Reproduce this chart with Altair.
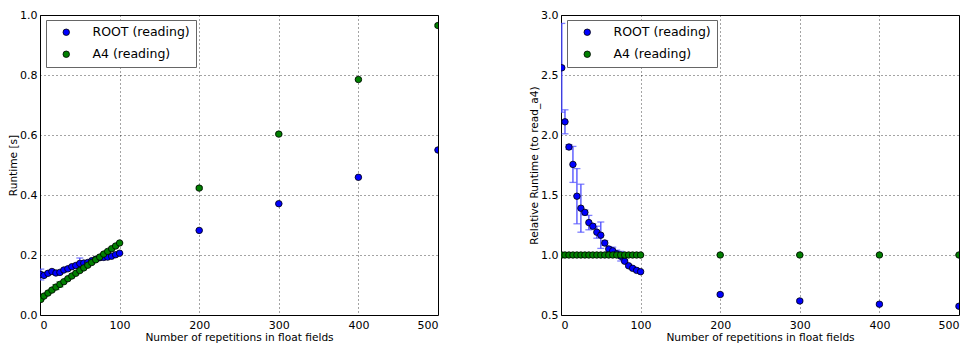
import altair as alt
import pandas as pd

series_names = ["ROOT (reading)", "A4 (reading)"]

x_vals = [1, 5, 10, 15, 20, 25, 30, 35, 40, 45, 50, 55, 60, 65, 70, 75, 80, 85, 90, 95, 100,
          200, 300, 400, 500]

# Runtime [s]
root_rt = [0.135, 0.132, 0.139, 0.145, 0.140, 0.142, 0.150, 0.154, 0.161, 0.165, 0.172, 0.173,
           0.175, 0.181, 0.186, 0.191, 0.192, 0.193, 0.196, 0.201, 0.206,
           0.282, 0.371, 0.459, 0.550]
root_rt_err = [0.018, 0.004, 0.003, 0.004, 0.005, 0.004, 0.003, 0.003, 0.003, 0.004, 0.018, 0.003,
               0.003, 0.003, 0.003, 0.003, 0.002, 0.002, 0.002, 0.002, 0.002,
               0.002, 0.002, 0.002, 0.002]
a4_rt = [0.052, 0.063, 0.073, 0.083, 0.093, 0.102, 0.111, 0.121, 0.130, 0.139, 0.148, 0.157,
         0.166, 0.175, 0.184, 0.193, 0.203, 0.212, 0.221, 0.230, 0.240,
         0.423, 0.603, 0.785, 0.965]
a4_rt_err = [0.002, 0.002, 0.002, 0.003, 0.008, 0.008, 0.003, 0.002, 0.002, 0.002, 0.002, 0.002,
             0.002, 0.002, 0.002, 0.002, 0.002, 0.002, 0.002, 0.002, 0.002,
             0.004, 0.003, 0.003, 0.004]

# Relative runtime (to read_a4)
root_rel = [2.56, 2.11, 1.90, 1.755, 1.49, 1.39, 1.355, 1.27, 1.24, 1.19, 1.165, 1.10,
            1.05, 1.035, 1.01, 0.99, 0.948, 0.91, 0.889, 0.872, 0.861,
            0.671, 0.617, 0.590, 0.573]
root_rel_err = [0.37, 0.10, 0.02, 0.15, 0.23, 0.20, 0.02, 0.06, 0.02, 0.05, 0.11, 0.02,
                0.02, 0.03, 0.03, 0.04, 0.01, 0.01, 0.01, 0.01, 0.01,
                0.01, 0.01, 0.01, 0.01]
a4_rel = [1.0] * 25
a4_rel_err = [0.005] * 25

x_ticks = [0, 100, 200, 300, 400, 500]
y_ticks_left = [0.0, 0.2, 0.4, 0.6, 0.8, 1.0]
y_ticks_right = [0.5, 1.0, 1.5, 2.0, 2.5, 3.0]

colors = ["#0000ff", "#008000"]
err_colors = ["#4a4aff", "#008000"]

FONT = "DejaVu Sans"


def make_df(root, root_err, a4, a4_err):
    rows = []
    for name, ys, es in [(series_names[0], root, root_err), (series_names[1], a4, a4_err)]:
        for x, y, e in zip(x_vals, ys, es):
            rows.append({"series": name, "x": x, "y": y, "lo": y - e, "hi": y + e})
    return pd.DataFrame(rows)


def panel(df, ydom, yticks, ytitle, yfmt):
    xs = alt.Scale(domain=[0, 500], nice=False)
    ys = alt.Scale(domain=ydom, nice=False, zero=False)
    xax = alt.Axis(values=x_ticks, format="d", title="Number of repetitions in float fields")
    yax = alt.Axis(values=yticks, format=yfmt, title=ytitle)
    base = alt.Chart(df)
    layers = []
    for name, ec in zip(series_names, err_colors):
        sub = base.transform_filter(alt.datum.series == name)
        layers.append(sub.mark_rule(strokeWidth=1.3, clip=True, color=ec).encode(
            x=alt.X("x:Q", scale=xs, axis=xax),
            y=alt.Y("lo:Q", scale=ys, axis=yax),
            y2="hi:Q",
        ))
        layers.append(sub.mark_tick(orient="horizontal", size=7, thickness=1.3, clip=True, color=ec).encode(
            x="x:Q", y="lo:Q",
        ))
        layers.append(sub.mark_tick(orient="horizontal", size=7, thickness=1.3, clip=True, color=ec).encode(
            x="x:Q", y="hi:Q",
        ))
    pts = base.mark_point(filled=True, shape="circle", size=42, opacity=1, strokeWidth=0.8, clip=True).encode(
        x="x:Q", y="y:Q",
        fill=alt.Fill(
            "series:N",
            scale=alt.Scale(domain=series_names, range=colors),
            legend=alt.Legend(
                title=None, orient="none", legendX=6, legendY=5,
                symbolType="circle", symbolSize=42, symbolStrokeColor="black",
                symbolStrokeWidth=0.8, symbolOffset=8, labelOffset=20,
                labelFont=FONT, labelFontSize=12.5, labelColor="black",
                padding=6, rowPadding=9,
                strokeColor="#666666", fillColor="white",
            ),
        ),
        stroke=alt.value("black"),
    )
    layers.append(pts)
    return alt.layer(*layers).properties(width=398, height=300)


left = panel(make_df(root_rt, root_rt_err, a4_rt, a4_rt_err), [0, 1.0], y_ticks_left,
             "Runtime [s]", ".1f")
right = panel(make_df(root_rel, root_rel_err, a4_rel, a4_rel_err), [0.5, 3.0], y_ticks_right,
              "Relative Runtime (to read_a4)", ".1f")

chart = alt.hconcat(left, right, spacing=90).resolve_scale(
    fill="independent"
).resolve_legend(fill="independent").properties(
    padding={"left": 0, "top": 0, "right": 0, "bottom": 0}
).configure_view(
    stroke="black", strokeWidth=1
).configure_axis(
    domain=False, ticks=False,
    grid=True, gridColor="black", gridDash=[1, 3], gridWidth=0.8, gridOpacity=0.9,
    labelFont=FONT, labelFontSize=11, labelColor="black",
    titleFont=FONT, titleFontSize=10.6, titleFontWeight="normal", titleColor="black",
).configure_axisX(titlePadding=2, labelPadding=4).configure_axisY(titlePadding=1, labelPadding=3)

chart.save("out.html", embed_options={"renderer": "svg", "actions": False})
